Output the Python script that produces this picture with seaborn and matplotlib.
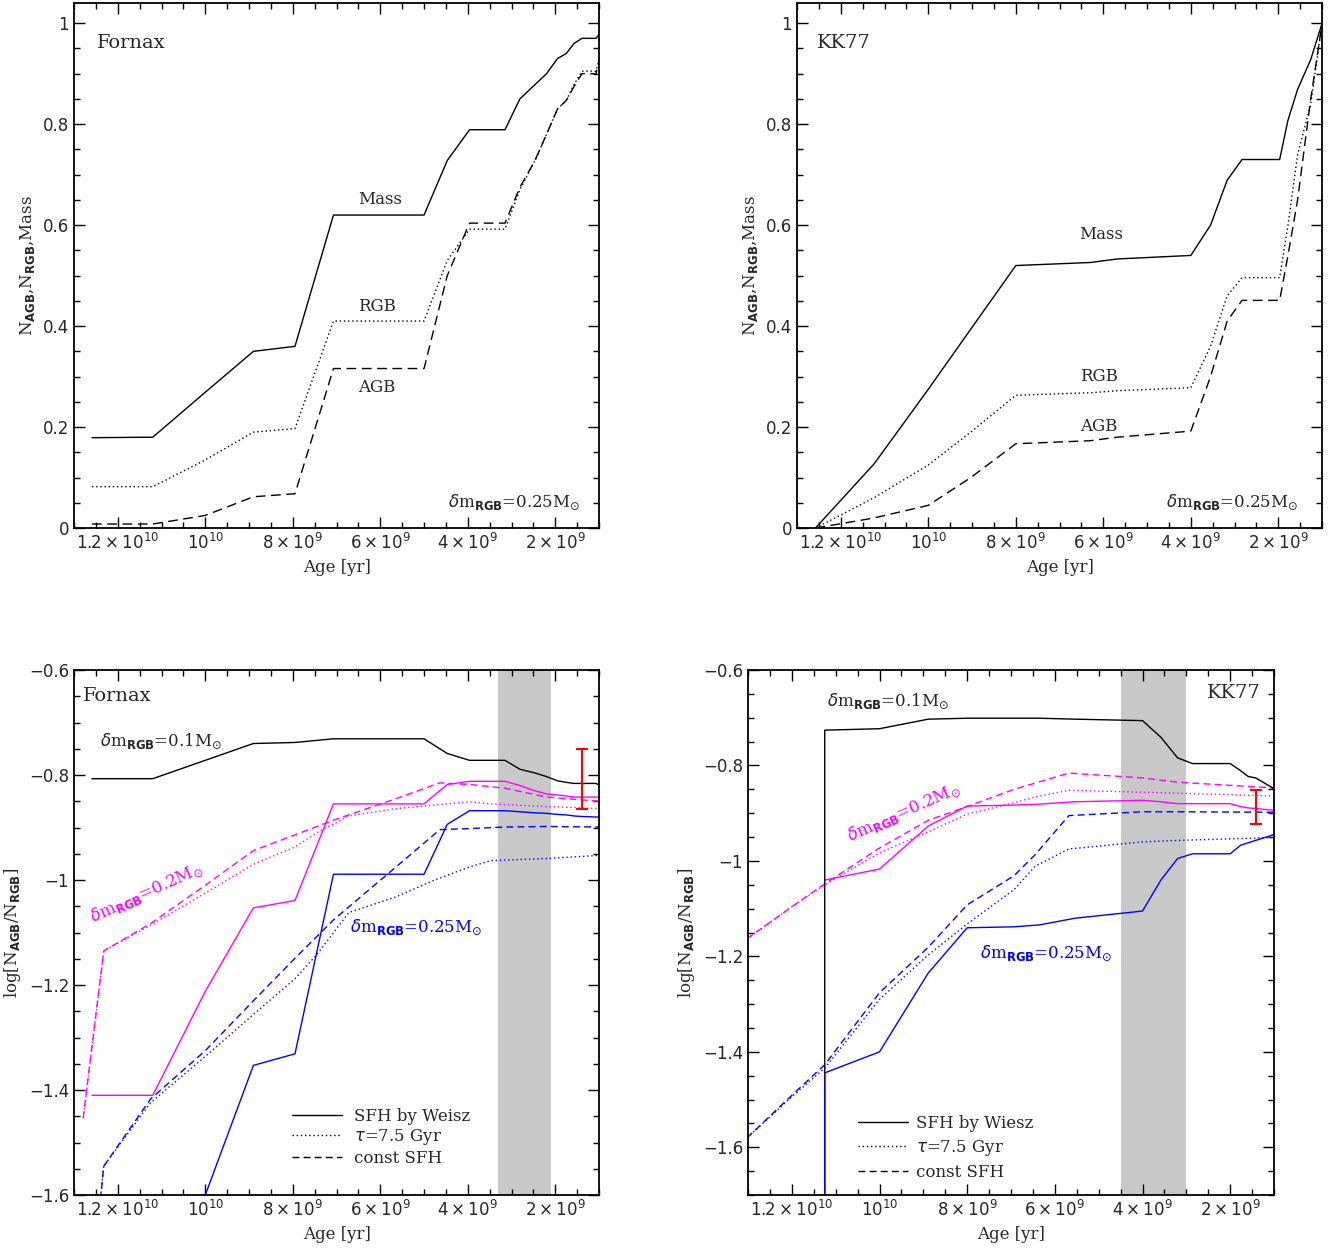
import seaborn as sns
import matplotlib.pyplot as plt
from matplotlib.lines import Line2D
from matplotlib.ticker import FixedLocator, MultipleLocator, FuncFormatter

# --- top panels: cumulative N_AGB, N_RGB, Mass vs age ---

# Fornax (SFH by Weisz)
fx_age = [1.259e10, 1.12e10, 1.0e10, 8.9e9, 7.95e9, 7.07e9, 5.0e9, 4.47e9, 3.96e9, 3.15e9,
          2.81e9, 2.47e9, 2.2e9, 1.95e9, 1.75e9, 1.57e9, 1.39e9, 1.07e9, 0.98e9]
fx_mass = [0.179, 0.18, 0.269, 0.35, 0.36, 0.62, 0.62, 0.728, 0.789, 0.789,
           0.85, 0.878, 0.90, 0.93, 0.94, 0.96, 0.97, 0.97, 0.98]
fx_rgb = [0.082, 0.082, 0.135, 0.19, 0.197, 0.41, 0.41, 0.53, 0.592, 0.592,
          0.67, 0.727, 0.78, 0.83, 0.847, 0.879, 0.905, 0.905, 0.933]
fx_agb = [0.008, 0.008, 0.025, 0.062, 0.068, 0.316, 0.316, 0.50, 0.604, 0.604,
          0.675, 0.727, 0.78, 0.83, 0.847, 0.875, 0.90, 0.90, 0.933]

# KK77 (SFH by Weisz)
kk_age = [1.258e10, 1.124e10, 1.0e10, 9.03e9, 8.0e9, 6.3e9, 5.68e9, 4.0e9, 3.55e9, 3.17e9,
          2.83e9, 1.97e9, 1.78e9, 1.56e9, 1.26e9, 1.0e9]
kk_mass = [0.0, 0.127, 0.275, 0.394, 0.52, 0.526, 0.533, 0.54, 0.60, 0.689,
           0.73, 0.73, 0.808, 0.869, 0.928, 1.0]
kk_rgb = [0.0, 0.06, 0.125, 0.19, 0.263, 0.268, 0.272, 0.278, 0.36, 0.46,
          0.496, 0.496, 0.60, 0.74, 0.84, 1.0]
kk_agb = [0.0, 0.02, 0.045, 0.10, 0.167, 0.173, 0.18, 0.192, 0.30, 0.41,
          0.451, 0.451, 0.54, 0.65, 0.85, 1.0]

# --- bottom panels: log(N_AGB/N_RGB) vs age ---

# Fornax, SFH by Weisz (same age grid as top)
fxw_dm01 = [-0.807, -0.807, -0.772, -0.74, -0.738, -0.731, -0.731, -0.759, -0.772, -0.772,
            -0.789, -0.796, -0.803, -0.811, -0.814, -0.816, -0.816, -0.816, -0.82]
fxw_dm02 = [-1.41, -1.41, -1.212, -1.053, -1.039, -0.855, -0.855, -0.818, -0.812, -0.812,
            -0.82, -0.83, -0.836, -0.838, -0.84, -0.842, -0.842, -0.842, -0.842]
fxw_dm025 = [-1.88, -1.88, -1.6, -1.353, -1.331, -0.989, -0.989, -0.894, -0.868, -0.868,
             -0.870, -0.872, -0.873, -0.875, -0.876, -0.878, -0.879, -0.88, -0.88]

# Fornax, constant SFH
fxc_age = [1.279e10, 1.232e10, 1.125e10, 1.0e10, 8.9e9, 7.95e9, 7.07e9, 5.64e9, 4.64e9,
           3.96e9, 3.15e9, 2.2e9, 0.98e9]
fxc_dm02 = [-1.453, -1.135, -1.083, -1.01, -0.944, -0.914, -0.886, -0.845, -0.815,
            -0.818, -0.825, -0.842, -0.85]
fxc_dm025 = [-1.93, -1.545, -1.417, -1.325, -1.23, -1.149, -1.076, -0.975, -0.904,
             -0.902, -0.899, -0.898, -0.899]

# Fornax, tau = 7.5 Gyr
fxt_age = [1.279e10, 1.232e10, 1.125e10, 1.0e10, 8.9e9, 7.95e9, 7.45e9, 6.72e9, 5.64e9,
           4.73e9, 3.96e9, 3.47e9, 2.2e9, 0.98e9]
fxt_dm02 = [-1.453, -1.135, -1.086, -1.025, -0.97, -0.937, -0.91, -0.878, -0.864,
            -0.857, -0.851, -0.855, -0.86, -0.864]
fxt_dm025 = [-1.93, -1.545, -1.424, -1.336, -1.256, -1.188, -1.142, -1.062, -1.032,
             -0.999, -0.975, -0.963, -0.959, -0.953]

# KK77, SFH by Weisz
kkw_age = [1.125e10, 1.125e10, 1.0e10, 8.89e9, 8.0e9, 6.93e9, 6.35e9, 5.54e9, 4.0e9,
           3.58e9, 3.2e9, 2.86e9, 2.0e9, 1.76e9, 1.59e9, 1.42e9, 1.01e9]
kkw_dm01 = [-2.2, -0.726, -0.723, -0.703, -0.701, -0.701, -0.701, -0.703, -0.706,
            -0.741, -0.784, -0.796, -0.796, -0.811, -0.823, -0.826, -0.848]
kkw_dm02 = [-1.04, -1.04, -1.017, -0.927, -0.885, -0.883, -0.881, -0.876, -0.873,
            -0.876, -0.88, -0.88, -0.88, -0.886, -0.889, -0.89, -0.894]
kkw_dm025 = [-2.2, -1.444, -1.40, -1.235, -1.14, -1.138, -1.134, -1.12, -1.105,
             -1.04, -0.995, -0.985, -0.985, -0.967, -0.962, -0.957, -0.945]

# KK77, constant SFH and tau = 7.5 Gyr (shared grid)
kkm_age = [1.302e10, 1.2e10, 1.125e10, 1.0e10, 8.89e9, 8.0e9, 6.93e9, 6.45e9, 5.68e9,
           4.0e9, 3.2e9, 1.01e9]
kkc_dm02 = [-1.163, -1.096, -1.048, -0.973, -0.915, -0.886, -0.85, -0.837, -0.816,
            -0.826, -0.835, -0.847]
kkc_dm025 = [-1.58, -1.491, -1.427, -1.276, -1.181, -1.092, -1.031, -0.987, -0.905,
             -0.897, -0.897, -0.898]
kkt_dm02 = [-1.163, -1.096, -1.05, -0.983, -0.939, -0.902, -0.878, -0.866, -0.852,
            -0.856, -0.858, -0.864]
kkt_dm025 = [-1.58, -1.494, -1.434, -1.29, -1.197, -1.132, -1.06, -1.011, -0.975,
             -0.96, -0.957, -0.951]

# observed ratio (red bar) and shaded age ranges
obs_age = [1.4e9, 1.4e9]
obs_val = [-0.807, -0.8875]
obs_err = [0.057, 0.0355]
band_lo = [2.1e9, 3.0e9]
band_hi = [3.3e9, 4.5e9]

x_ticks = [1.2e10, 1.0e10, 8e9, 6e9, 4e9, 2e9]
x_ticklabels = [r'$1.2\times10^{10}$', r'$10^{10}$', r'$8\times10^{9}$',
                r'$6\times10^{9}$', r'$4\times10^{9}$', r'$2\times10^{9}$']

sns.set_theme(style='ticks')
plt.rcParams['font.family'] = ['DejaVu Serif']
plt.rcParams['mathtext.fontset'] = 'dejavusans'
plt.rcParams['axes.linewidth'] = 1.3

DOT = (0, (1, 2))
DASH_TOP = (0, (7, 4))
DASH_BOT = (0, (5, 3))
MAG = '#ff00ff'
BLUE = '#0000ff'


def line(ax, x, y, color='black', ls='-'):
    sns.lineplot(x=x, y=y, ax=ax, color=color, linestyle=ls, linewidth=1.0,
                 sort=False, estimator=None, errorbar=None, legend=False)


def style_axis(ax, ylim, ymajor):
    ax.set_xlim(1.3e10, 1.0e9)
    ax.set_ylim(*ylim)
    ax.xaxis.set_major_locator(FixedLocator(x_ticks))
    ax.set_xticklabels(x_ticklabels)
    ax.xaxis.set_minor_locator(MultipleLocator(5e8))
    ax.yaxis.set_major_locator(MultipleLocator(ymajor))
    ax.yaxis.set_major_formatter(FuncFormatter(lambda v, p: ('%g' % round(v, 3)).replace('-', '\u2212')))
    ax.yaxis.set_minor_locator(MultipleLocator(0.05))
    ax.tick_params(which='both', direction='in', top=True, right=True,
                   color='black', width=1.0, labelsize=12, labelfontfamily='DejaVu Sans')
    ax.tick_params(which='major', length=8)
    ax.tick_params(which='minor', length=4)
    ax.set_xlabel('Age [yr]', fontsize=12)
    for s in ax.spines.values():
        s.set_color('black')


fig = plt.figure(figsize=(13.36, 12.54), dpi=100)
ax1 = fig.add_axes([0.0554, 0.5789, 0.3930, 0.4187])
ax2 = fig.add_axes([0.5966, 0.5789, 0.3930, 0.4187])
ax3 = fig.add_axes([0.0554, 0.0470, 0.3930, 0.4187])
ax4 = fig.add_axes([0.5599, 0.0470, 0.3937, 0.4187])

dm_lab = r'$\delta$m$_{\mathbf{RGB}}$=%sM$_{\odot}$'
top_ylabel = r'N$_{\mathbf{AGB}}$,N$_{\mathbf{RGB}}$,Mass'
bot_ylabel = r'log[N$_{\mathbf{AGB}}$/N$_{\mathbf{RGB}}$]'

# top left: Fornax
line(ax1, fx_age, fx_mass)
line(ax1, fx_age, fx_rgb, ls=DOT)
line(ax1, fx_age, fx_agb, ls=DASH_TOP)
style_axis(ax1, (0, 1.04), 0.2)
ax1.set_ylabel(top_ylabel, fontsize=12)
ax1.text(1.247e10, 0.96, 'Fornax', fontsize=14, va='center')
ax1.text(6.0e9, 0.651, 'Mass', fontsize=12, ha='center', va='center')
ax1.text(6.07e9, 0.439, 'RGB', fontsize=12, ha='center', va='center')
ax1.text(6.07e9, 0.278, 'AGB', fontsize=12, ha='center', va='center')
ax1.text(2.95e9, 0.05, dm_lab % '0.25', fontsize=12, ha='center', va='center')

# top right: KK77
line(ax2, kk_age, kk_mass)
line(ax2, kk_age, kk_rgb, ls=DOT)
line(ax2, kk_age, kk_agb, ls=DASH_TOP)
style_axis(ax2, (0, 1.04), 0.2)
ax2.set_ylabel(top_ylabel, fontsize=12)
ax2.text(1.255e10, 0.96, 'KK77', fontsize=14, va='center')
ax2.text(6.05e9, 0.581, 'Mass', fontsize=12, ha='center', va='center')
ax2.text(6.11e9, 0.30, 'RGB', fontsize=12, ha='center', va='center')
ax2.text(6.11e9, 0.201, 'AGB', fontsize=12, ha='center', va='center')
ax2.text(3.05e9, 0.05, dm_lab % '0.25', fontsize=12, ha='center', va='center')

# bottom left: Fornax ratio
ax3.axvspan(band_lo[0], band_hi[0], color='#c8c8c8', lw=0, zorder=0)
line(ax3, fx_age, fxw_dm01)
line(ax3, fx_age, fxw_dm02, MAG)
line(ax3, fxt_age, fxt_dm02, MAG, DOT)
line(ax3, fxc_age, fxc_dm02, MAG, DASH_BOT)
line(ax3, fx_age, fxw_dm025, BLUE)
line(ax3, fxt_age, fxt_dm025, BLUE, DOT)
line(ax3, fxc_age, fxc_dm025, BLUE, DASH_BOT)
ax3.errorbar(obs_age[:1], obs_val[:1], yerr=obs_err[:1], color='red', lw=1.5,
             capsize=4, capthick=1.5, fmt='none')
style_axis(ax3, (-1.6, -0.6), 0.2)
ax3.set_ylabel(bot_ylabel, fontsize=12)
ax3.text(1.279e10, -0.65, 'Fornax', fontsize=14, va='center')
ax3.text(1.24e10, -0.736, dm_lab % '0.1', fontsize=12, va='center')
ax3.text(1.134e10, -1.025, dm_lab % '0.2', fontsize=12, color=MAG,
         ha='center', va='center', rotation=24.5)
ax3.text(5.19e9, -1.091, dm_lab % '0.25', fontsize=12, color=BLUE,
         ha='center', va='center')

# bottom right: KK77 ratio
ax4.axvspan(band_lo[1], band_hi[1], color='#c8c8c8', lw=0, zorder=0)
line(ax4, kkw_age, kkw_dm02, MAG)
line(ax4, kkm_age, kkt_dm02, MAG, DOT)
line(ax4, kkm_age, kkc_dm02, MAG, DASH_BOT)
line(ax4, kkw_age, kkw_dm01)
line(ax4, kkw_age, kkw_dm025, BLUE)
line(ax4, kkm_age, kkt_dm025, BLUE, DOT)
line(ax4, kkm_age, kkc_dm025, BLUE, DASH_BOT)
ax4.errorbar(obs_age[1:], obs_val[1:], yerr=obs_err[1:], color='red', lw=1.5,
             capsize=4, capthick=1.5, fmt='none')
style_axis(ax4, (-1.7, -0.6), 0.2)
ax4.set_ylabel(bot_ylabel, fontsize=12)
ax4.text(1.3e9, -0.648, 'KK77', fontsize=14, ha='right', va='center')
ax4.text(9.8e9, -0.665, dm_lab % '0.1', fontsize=12, ha='center', va='center')
ax4.text(9.46e9, -0.898, dm_lab % '0.2', fontsize=12, color=MAG,
         ha='center', va='center', rotation=24)
ax4.text(6.19e9, -1.193, dm_lab % '0.25', fontsize=12, color=BLUE,
         ha='center', va='center')

# legends for the bottom panels
handles = [Line2D([], [], color='black', lw=1.0, ls='-'),
           Line2D([], [], color='black', lw=1.0, ls=DOT),
           Line2D([], [], color='black', lw=1.0, ls=DASH_BOT)]
labels = ['SFH by Weisz', r'$\tau$=7.5 Gyr', 'const SFH']
ax3.legend(handles, labels, loc='center left', bbox_to_anchor=(0.416, 0.11),
           frameon=False, fontsize=12, handlelength=3.0, handletextpad=0.7,
           labelspacing=0.15, borderpad=0, borderaxespad=0)
ax4.legend(handles, ['SFH by Wiesz', r'$\tau$=7.5 Gyr', 'const SFH'],
           loc='center left', bbox_to_anchor=(0.209, 0.09),
           frameon=False, fontsize=12, handlelength=3.0, handletextpad=0.5,
           labelspacing=0.35, borderpad=0, borderaxespad=0)

fig.savefig('out.png', dpi=100)
